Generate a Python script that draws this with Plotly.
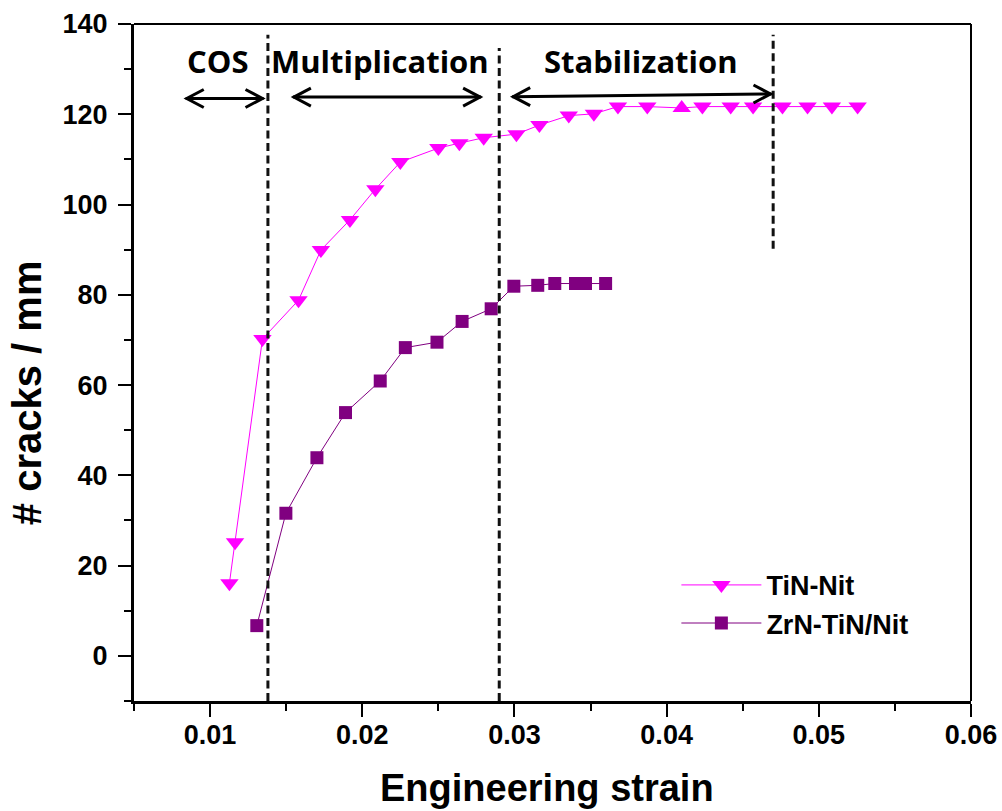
import plotly.graph_objects as go

# Engineering strain vs crack density for two coatings
tin_strain = [0.01127, 0.01164, 0.01344, 0.01581, 0.01728, 0.01919, 0.02086, 0.0225,
              0.025, 0.02638, 0.02798, 0.03013, 0.03164, 0.03357, 0.03522, 0.0368,
              0.03873, 0.04099, 0.04235, 0.04421, 0.04568, 0.04761, 0.04926, 0.05086,
              0.05255]
tin_cracks = [16.1, 25.2, 70.2, 78.8, 89.9, 96.6, 103.4, 109.4,
              112.5, 113.6, 114.8, 115.6, 117.6, 119.7, 120.1, 121.7,
              121.7, 121.4, 121.7, 121.7, 121.7, 121.7, 121.7, 121.7,
              121.7]
tin_symbols = ["triangle-down"] * 17 + ["triangle-up"] + ["triangle-down"] * 7

zrn_strain = [0.01307, 0.01498, 0.01702, 0.0189, 0.02118, 0.02283, 0.02491, 0.02656,
              0.02847, 0.02996, 0.03153, 0.03265, 0.03401, 0.03467, 0.03599]
zrn_cracks = [6.7, 31.6, 43.9, 53.9, 60.9, 68.3, 69.5, 74.1,
              76.9, 81.9, 82.1, 82.5, 82.5, 82.5, 82.5]

# Stage boundaries (strain) and the extent of each dashed marker line
boundary_strain = [0.0138, 0.0290, 0.0470]
boundary_top = [137.6, 134.7, 137.6]
boundary_bottom = [-10, -10, 90.2]

# Stage labels with their double-headed arrows
stage_names = ["COS", "Multiplication", "Stabilization"]
stage_label_x = [0.01053, 0.02118, 0.0383]
stage_label_y = [131.8, 131.8, 131.8]
arrow_x0 = [0.0084, 0.01544, 0.02985]
arrow_x1 = [0.01351, 0.02781, 0.04689]
arrow_y0 = [123.5, 123.8, 123.9]
arrow_y1 = [123.5, 123.8, 124.5]

x_ticks = [0.01, 0.02, 0.03, 0.04, 0.05, 0.06]
y_ticks = [0, 20, 40, 60, 80, 100, 120, 140]

AXIS_FONT = "Liberation Sans, Arial, sans-serif"
NOTE_FONT = "Open Sans, Noto Sans, sans-serif"

fig = go.Figure()

fig.add_trace(go.Scatter(
    x=tin_strain, y=tin_cracks, name="TiN-Nit", mode="lines+markers",
    line=dict(color="#FF00FF", width=1),
    marker=dict(symbol=tin_symbols, size=16, color="#FF00FF", line=dict(width=0)),
))
fig.add_trace(go.Scatter(
    x=zrn_strain, y=zrn_cracks, name="ZrN-TiN/Nit", mode="lines+markers",
    line=dict(color="#800080", width=1),
    marker=dict(symbol="square", size=13, color="#800080", line=dict(width=0)),
))

shapes = []
for xb, yt, yb in zip(boundary_strain, boundary_top, boundary_bottom):
    shapes.append(dict(type="line", xref="x", yref="y", x0=xb, x1=xb, y0=yb, y1=yt,
                       line=dict(color="#111111", width=3, dash="8px,4.5px")))

for xa, xb, ya, yb in zip(arrow_x0, arrow_x1, arrow_y0, arrow_y1):
    shapes.append(dict(type="line", xref="x", yref="y", x0=xa, x1=xb, y0=ya, y1=yb,
                       line=dict(color="black", width=3)))
    shapes.append(dict(type="path", xref="x", yref="y", xsizemode="pixel",
                       ysizemode="pixel", xanchor=xa, yanchor=ya,
                       path="M18,9 L1,0 L18,-9", line=dict(color="black", width=3)))
    shapes.append(dict(type="path", xref="x", yref="y", xsizemode="pixel",
                       ysizemode="pixel", xanchor=xb, yanchor=yb,
                       path="M-18,9 L-1,0 L-18,-9", line=dict(color="black", width=3)))

# thinner frame on the top and right sides
shapes.append(dict(type="line", xref="paper", yref="paper", x0=0, x1=1, y0=1, y1=1,
                   line=dict(color="black", width=2)))
shapes.append(dict(type="line", xref="paper", yref="paper", x0=1, x1=1, y0=0, y1=1,
                   line=dict(color="black", width=2)))

annotations = []
for name, lx, ly in zip(stage_names, stage_label_x, stage_label_y):
    annotations.append(dict(x=lx, y=ly, xref="x", yref="y", text=name, showarrow=False,
                            font=dict(family=NOTE_FONT, size=31, color="black",
                                      weight="bold"),
                            xanchor="center", yanchor="middle"))

# axis titles
annotations.append(dict(x=0.493, y=-0.129, xref="paper", yref="paper",
                        text="Engineering strain", showarrow=False,
                        xanchor="center", yanchor="middle",
                        font=dict(family=AXIS_FONT, size=38, color="black",
                                  weight="bold")))
annotations.append(dict(x=-0.128, y=0.456, xref="paper", yref="paper",
                        text="# cracks / mm", showarrow=False, textangle=-90,
                        xanchor="center", yanchor="middle",
                        font=dict(family=AXIS_FONT, size=40, color="black",
                                  weight="bold")))

fig.update_layout(
    width=1002, height=811,
    margin=dict(l=134, r=31, t=24, b=110),
    paper_bgcolor="white", plot_bgcolor="white",
    shapes=shapes, annotations=annotations,
    showlegend=True,
    legend=dict(x=0.648, y=0.207, xanchor="left", yanchor="top",
                bgcolor="rgba(0,0,0,0)", itemwidth=80,
                font=dict(family=AXIS_FONT, size=27, color="black", weight="bold"),
                tracegroupgap=0),
    font=dict(family=AXIS_FONT, color="black"),
)

fig.update_xaxes(
    range=[0.005, 0.06], tickvals=x_ticks, ticktext=[f"{v:g}" for v in x_ticks],
    automargin=False,
    showgrid=False, zeroline=False, showline=True, linecolor="black", linewidth=3,
    ticks="outside", ticklen=13, tickwidth=2, tickcolor="black",
    ticklabelstandoff=-5,
    minor=dict(dtick=0.005, tick0=0.005, ticks="outside", ticklen=7, tickwidth=2,
               tickcolor="black", showgrid=False),
    tickfont=dict(family=AXIS_FONT, size=27, color="black", weight="bold"),
)
fig.update_yaxes(
    range=[-10, 140], tickvals=y_ticks, automargin=False,
    showgrid=False, zeroline=False, showline=True, linecolor="black", linewidth=3,
    ticks="outside", ticklen=13, tickwidth=2, tickcolor="black",
    ticklabelstandoff=5,
    minor=dict(dtick=10, tick0=-10, ticks="outside", ticklen=7, tickwidth=2,
               tickcolor="black", showgrid=False),
    tickfont=dict(family=AXIS_FONT, size=27, color="black", weight="bold"),
)

fig.write_html("out.html")
